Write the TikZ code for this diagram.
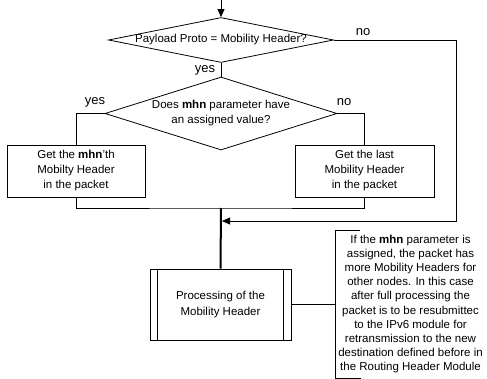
\documentclass[tikz,border=0pt]{standalone}
\usepackage{fontspec}
\setmainfont{Liberation Sans}
\usetikzlibrary{calc,shapes.geometric,arrows.meta}
\tikzset{
	decision/.style={draw, diamond, inner sep=0pt, line width=0.8pt, label={[align=center, font=\fontsize{11.5}{15}\selectfont]center:#1}},
	stepbox/.style={draw, rectangle, align=center, line width=0.8pt, font=\fontsize{11.5}{15}\selectfont},
	answer/.style={font=\fontsize{13}{15}\selectfont, inner sep=0pt},
	flow/.style={line width=0.8pt},
	arr/.style={flow, -{Triangle[length=8pt, width=7pt]}}
}

\begin{document}
\begin{tikzpicture}[x=1pt, y=-1pt]
			%%%%% START %%%%%
			
			\useasboundingbox (0, 0) rectangle (487, 379);
			
			\node[decision={Payload Proto = Mobility Header?}, minimum width=225pt, minimum height=45pt] (payload) at (221, 40) {};
			\node[decision={Does \textbf{mhn} parameter have\\an assigned value?}, minimum width=232pt, minimum height=73pt] (mhn) at (221, 113.5) {};
			
			\node[stepbox, minimum width=138pt, minimum height=52pt] (getnth) at (76, 171) {Get the \textbf{mhn}'th\\Mobilty Header\\in the packet};
			\node[stepbox, minimum width=139pt, minimum height=52pt] (getlast) at (364.5, 171) {Get the last\\Mobility Header\\in the packet};
			\node[stepbox, minimum width=141pt, minimum height=71pt, font=\fontsize{11.5}{16}\selectfont] (proc) at (220.5, 304.5) {Processing of the\\Mobility Header};
			\draw[flow] ([xshift=8pt]proc.north west) -- ([xshift=8pt]proc.south west);
			\draw[flow] ([xshift=-8pt]proc.north east) -- ([xshift=-8pt]proc.south east);
			
			\coordinate (start) at (221, 0);
			\coordinate (loop) at (456.5, 40);
			\coordinate (merge) at (222, 221);
			\coordinate (join) at (221, 208);
			\coordinate (brace) at (335, 304.5);
			
			\draw[arr] (start) -- (payload.north);
			\draw[flow] (payload.south) -- (mhn.north);
			\draw[flow] (mhn.west) -| (getnth.north);
			\draw[flow] (mhn.east) -| (getlast.north);
			\draw[flow] (getnth.south) |- (join) -| (getlast.south);
			\draw[line width=2pt] (join) -- (proc.north);
			\draw[arr] (payload.east) -- (loop) |- (merge);
			\draw[flow] (proc.east) -- (brace);
			
			\node[answer] (no1) at (363, 32) {no};
			\node[answer] (yes1) at (205, 70) {yes};
			\node[answer] (yes2) at (95, 102) {yes};
			\node[answer] (no2) at (344, 102) {no};
			
			\draw[flow] (360, 230) -- (335, 230) -- (335, 378) -- (361, 378);
			\node[align=center, font=\fontsize{11.5}{14.2}\selectfont, inner sep=0pt] (note) at (410.5, 304) {If the \textbf{mhn} parameter is\\assigned, the packet has\\more Mobility Headers for\\other nodes. In this case\\after full processing the\\packet is to be resubmittec\\to the IPv6 module for\\retransmission to the new\\destination defined before in\\the Routing Header Module};
			
			%%%%% END %%%%%
\end{tikzpicture}
\end{document}
